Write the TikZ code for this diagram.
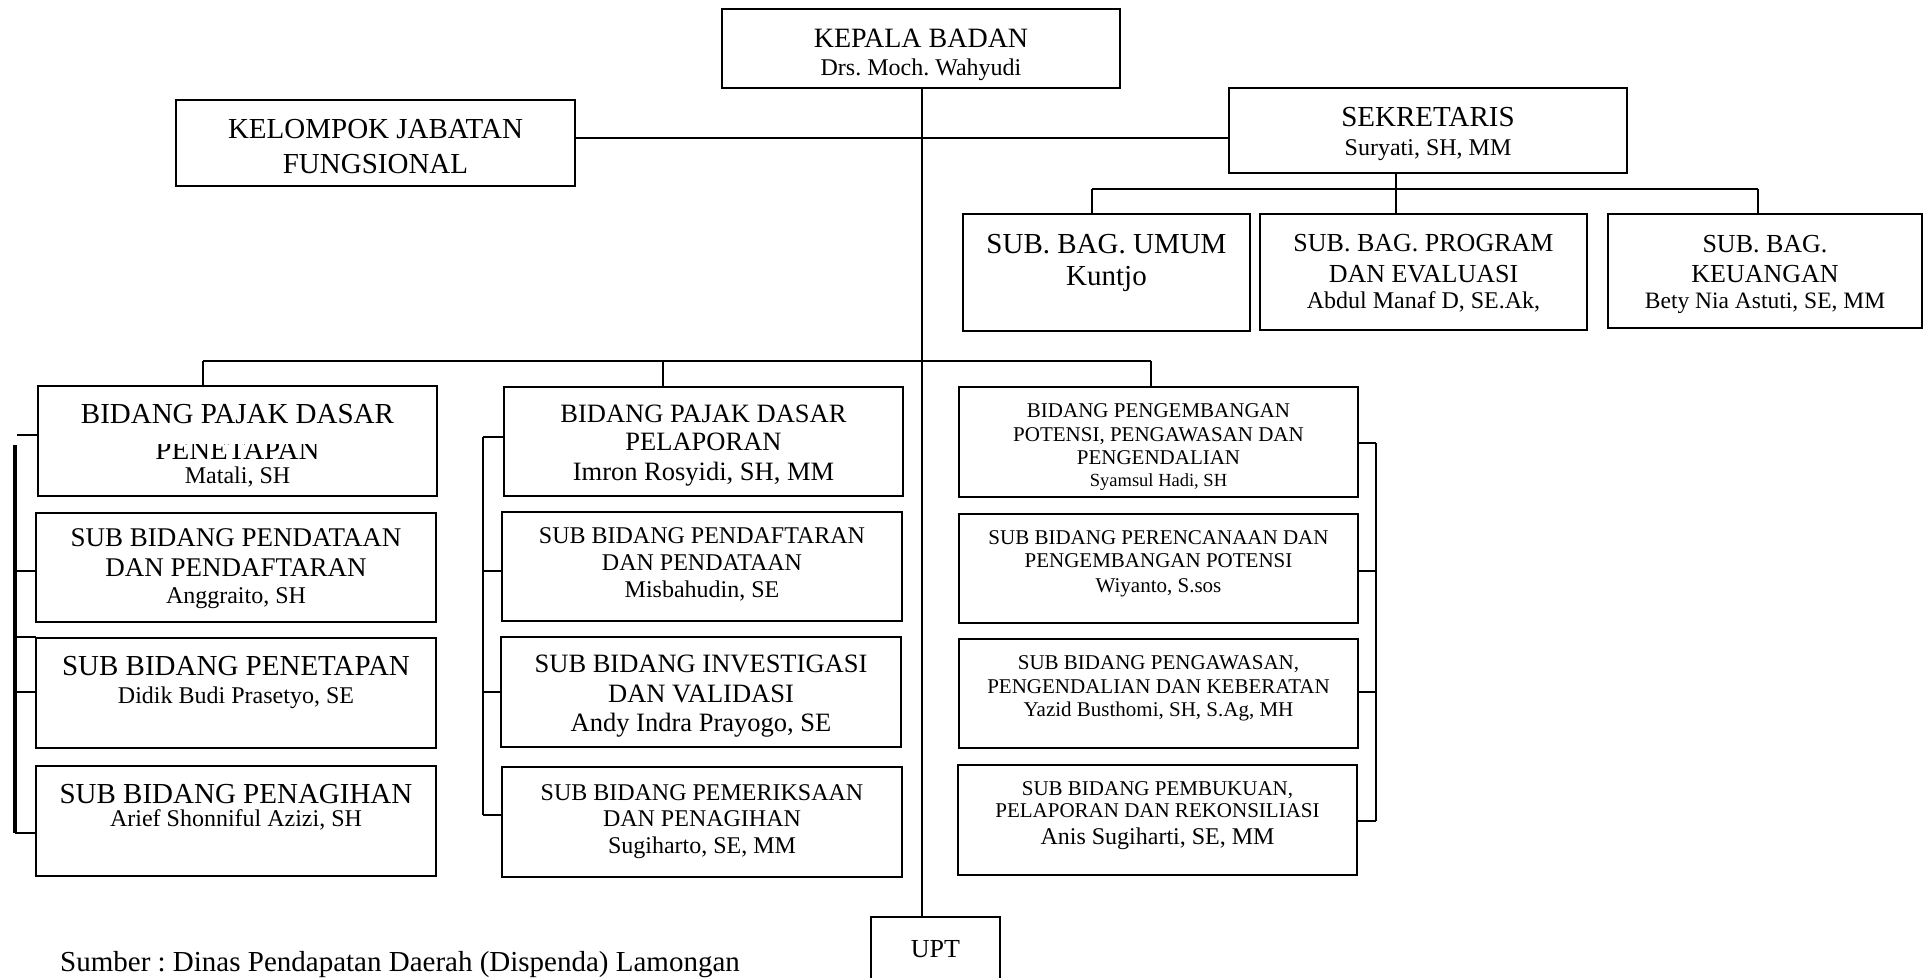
\documentclass[tikz,border=0pt]{standalone}
\usepackage{fontspec}
\setmainfont{Liberation Serif}
\frenchspacing
% one text line, placed by its baseline: name, x, baseline y, size, text
\newcommand\tline[5]{\node[anchor=base, inner sep=0pt, font=\fontsize{#4}{#4}\selectfont] (#1) at (#2,#3) {#5};}
\begin{document}
\begin{tikzpicture}[x=1pt, y=-1pt,
  box/.style={draw, rectangle, line width=2.9pt, inner sep=0pt, outer sep=0pt},
  conn/.style={line width=2.3pt},
  spine/.style={line width=3.6pt}]
\useasboundingbox (0,0) rectangle (1932,977);

% ---------- top level ----------
\node[box, minimum width=398pt, minimum height=79pt] (kepala) at (921,48.5) {};
\tline{kp1}{921}{47}{28}{KEPALA BADAN}
\tline{kp2}{921}{75}{24}{Drs. Moch. Wahyudi}

\node[box, minimum width=399pt, minimum height=86pt] (kelompok) at (375.5,143) {};
\tline{kl1}{375.5}{138}{29}{KELOMPOK JABATAN}
\tline{kl2}{375.5}{173}{29}{FUNGSIONAL}

\node[box, minimum width=398pt, minimum height=85pt] (sek) at (1428,130.5) {};
\tline{sk1}{1428}{126}{29}{SEKRETARIS}
\tline{sk2}{1428}{155}{24}{Suryati, SH, MM}

% ---------- secretariat sub-sections ----------
\node[box, minimum width=287pt, minimum height=117pt] (umum) at (1106.5,272.5) {};
\tline{um1}{1106.5}{253}{29}{SUB. BAG. UMUM}
\tline{um2}{1106.5}{285}{29}{Kuntjo}

\node[box, minimum width=327pt, minimum height=116pt] (program) at (1423.5,272) {};
\tline{pr1}{1423.5}{251}{26}{SUB. BAG. PROGRAM}
\tline{pr2}{1423.5}{282}{26}{DAN EVALUASI}
\tline{pr3}{1423.5}{308}{24}{Abdul Manaf D, SE.Ak,}

\node[box, minimum width=314pt, minimum height=114pt] (keuangan) at (1765,271) {};
\tline{ku1}{1765}{252}{26}{SUB. BAG.}
\tline{ku2}{1765}{282}{26}{KEUANGAN}
\tline{ku3}{1765}{308}{23.5}{Bety Nia Astuti, SE, MM}

% ---------- column A ----------
\node[box, minimum width=399pt, minimum height=110pt] (a1) at (237.5,441) {};
\tline{a1t1}{237.5}{423}{29}{BIDANG PAJAK DASAR}
\begin{scope}
  \clip (40,444) rectangle (435,470);
  \tline{a1t2}{237.5}{459}{29}{PENETAPAN}
\end{scope}
\tline{a1t3}{237.5}{483}{24}{Matali, SH}

\node[box, minimum width=400pt, minimum height=109pt] (a2) at (236,567.5) {};
\tline{a2t1}{236}{546}{27}{SUB BIDANG PENDATAAN}
\tline{a2t2}{236}{576}{27}{DAN PENDAFTARAN}
\tline{a2t3}{236}{603}{24}{Anggraito, SH}

\node[box, minimum width=400pt, minimum height=110pt] (a3) at (236,693) {};
\tline{a3t1}{236}{675}{29}{SUB BIDANG PENETAPAN}
\tline{a3t2}{236}{703}{24}{Didik Budi Prasetyo, SE}

\node[box, minimum width=400pt, minimum height=110pt] (a4) at (236,821) {};
\tline{a4t1}{236}{803}{29}{SUB BIDANG PENAGIHAN}
\tline{a4t2}{236}{826}{24}{Arief Shonniful Azizi, SH}

% ---------- column B ----------
\node[box, minimum width=399pt, minimum height=109pt] (b1) at (703.5,441.5) {};
\tline{b1t1}{703.5}{422}{26.5}{BIDANG PAJAK DASAR}
\tline{b1t2}{703.5}{450}{26.5}{PELAPORAN}
\tline{b1t3}{703.5}{480}{26.5}{Imron Rosyidi, SH, MM}

\node[box, minimum width=400pt, minimum height=109pt] (b2) at (702,566.5) {};
\tline{b2t1}{702}{543}{24}{SUB BIDANG PENDAFTARAN}
\tline{b2t2}{702}{570}{24}{DAN PENDATAAN}
\tline{b2t3}{702}{597}{24}{Misbahudin, SE}

\node[box, minimum width=400pt, minimum height=110pt] (b3) at (701,692) {};
\tline{b3t1}{701}{672}{26.5}{SUB BIDANG INVESTIGASI}
\tline{b3t2}{701}{702}{26.5}{DAN VALIDASI}
\tline{b3t3}{701}{731}{26.5}{Andy Indra Prayogo, SE}

\node[box, minimum width=400pt, minimum height=110pt] (b4) at (702,822) {};
\tline{b4t1}{702}{800}{24}{SUB BIDANG PEMERIKSAAN}
\tline{b4t2}{702}{826}{24}{DAN PENAGIHAN}
\tline{b4t3}{702}{853}{24}{Sugiharto, SE, MM}

% ---------- column C ----------
\node[box, minimum width=399pt, minimum height=110pt] (c1) at (1158.5,442) {};
\tline{c1t1}{1158.5}{417}{21}{BIDANG PENGEMBANGAN}
\tline{c1t2}{1158.5}{441}{21}{POTENSI, PENGAWASAN DAN}
\tline{c1t3}{1158.5}{464}{21}{PENGENDALIAN}
\tline{c1t4}{1158.5}{486}{18.5}{Syamsul Hadi, SH}

\node[box, minimum width=399pt, minimum height=109pt] (c2) at (1158.5,568.5) {};
\tline{c2t1}{1158.5}{544}{21}{SUB BIDANG PERENCANAAN DAN}
\tline{c2t2}{1158.5}{567}{21}{PENGEMBANGAN POTENSI}
\tline{c2t3}{1158.5}{592}{21}{Wiyanto, S.sos}

\node[box, minimum width=399pt, minimum height=109pt] (c3) at (1158.5,693.5) {};
\tline{c3t1}{1158.5}{669}{21}{SUB BIDANG PENGAWASAN,}
\tline{c3t2}{1158.5}{693}{21}{PENGENDALIAN DAN KEBERATAN}
\tline{c3t3}{1158.5}{716}{21}{Yazid Busthomi, SH, S.Ag, MH}

\node[box, minimum width=399pt, minimum height=110pt] (c4) at (1157.5,820) {};
\tline{c4t1}{1157.5}{795}{21}{SUB BIDANG PEMBUKUAN,}
\tline{c4t2}{1157.5}{817}{21}{PELAPORAN DAN REKONSILIASI}
\tline{c4t3}{1157.5}{844}{24}{Anis Sugiharti, SE, MM}

% ---------- UPT and source note ----------
\node[box, minimum width=129pt, minimum height=80pt] (upt) at (935.5,957) {};
\tline{uptt}{935.5}{957}{26}{UPT}
\node[anchor=base west, inner sep=0pt, font=\fontsize{29}{29}\selectfont] (sumber) at (60,971)
  {Sumber : Dinas Pendapatan Daerah (Dispenda) Lamongan};

% ---------- connectors ----------
\coordinate (mainx) at (922,0);
\draw[conn] (mainx |- kepala.south) -- (mainx |- upt.north);
\coordinate (klink) at (575,138);
\draw[conn] (klink -| kelompok.east) -- (klink -| sek.west);

% secretariat bus
\coordinate (sekdrop) at (1396,189);
\coordinate (sbusL) at (1092,189);
\coordinate (sbusR) at (1758,189);
\draw[conn] (sekdrop |- sek.south) -- (sekdrop);
\draw[conn] (sbusL) -- (sbusR);
\draw[conn] (sbusL) -- (sbusL |- umum.north);
\draw[conn] (sekdrop) -- (sekdrop |- program.north);
\draw[conn] (sbusR) -- (sbusR |- keuangan.north);

% division bus
\coordinate (bb1) at (203,361);
\coordinate (bb2) at (663,361);
\coordinate (bb3) at (1151,361);
\draw[conn] (bb1) -- (bb3);
\draw[conn] (bb1) -- (bb1 |- a1.north);
\draw[conn] (bb2) -- (bb2 |- b1.north);
\draw[conn] (bb3) -- (bb3 |- c1.north);

% column A bracket
\coordinate (la0) at (17,435);
\draw[conn] (la0) -- (la0 -| a1.west);
\coordinate (la1) at (15,445);
\coordinate (la2) at (15,833);
\draw[spine] (la1) -- (la2);
\coordinate (la3) at (15,571);
\coordinate (la4) at (15,637);
\coordinate (la5) at (15,692);
\draw[conn] (la3) -- (la3 -| a2.west);
\draw[conn] (la4) -- (la4 -| a3.west);
\draw[conn] (la5) -- (la5 -| a3.west);
\draw[conn] (la2) -- (la2 -| a4.west);

% column B bracket
\coordinate (lb1) at (483,437);
\coordinate (lb2) at (483,571);
\coordinate (lb3) at (483,692);
\coordinate (lb4) at (483,815);
\draw[conn] (lb1) -- (lb4);
\draw[conn] (lb1) -- (lb1 -| b1.west);
\draw[conn] (lb2) -- (lb2 -| b2.west);
\draw[conn] (lb3) -- (lb3 -| b3.west);
\draw[conn] (lb4) -- (lb4 -| b4.west);

% column C bracket
\coordinate (lc1) at (1376,443);
\coordinate (lc2) at (1376,571);
\coordinate (lc3) at (1376,692);
\coordinate (lc4) at (1376,821);
\draw[conn] (lc1) -- (lc4);
\draw[conn] (lc1) -- (lc1 -| c1.east);
\draw[conn] (lc2) -- (lc2 -| c2.east);
\draw[conn] (lc3) -- (lc3 -| c3.east);
\draw[conn] (lc4) -- (lc4 -| c4.east);
\end{tikzpicture}
\end{document}
